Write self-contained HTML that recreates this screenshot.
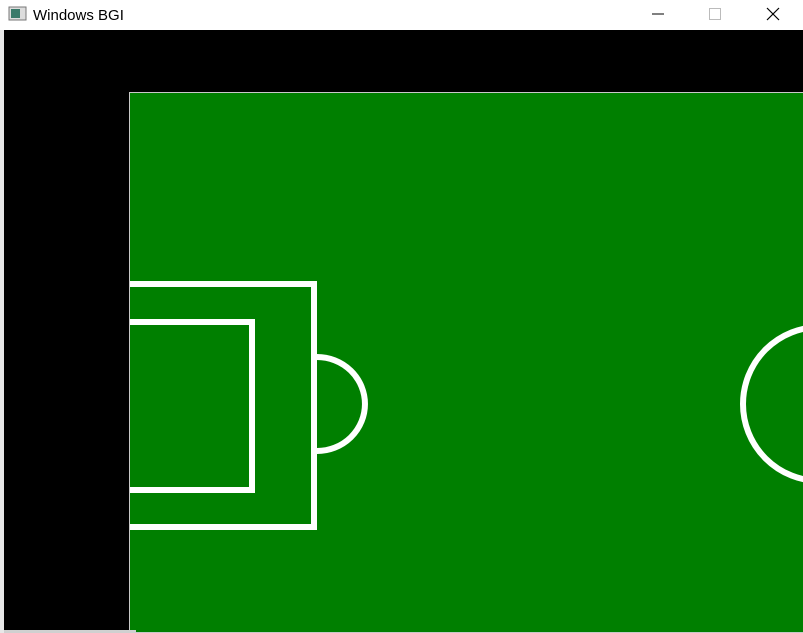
<!DOCTYPE html>
<html><head><meta charset="utf-8"><style>
html,body{margin:0;padding:0;width:803px;height:633px;overflow:hidden;background:#fff;font-family:"Liberation Sans",sans-serif}
</style></head><body>
<svg width="803" height="633" viewBox="0 0 803 633" xmlns="http://www.w3.org/2000/svg">
  <rect x="0" y="0" width="803" height="30" fill="#fff"/>
  <g>
    <rect x="9" y="7" width="17" height="13" fill="#ddd" stroke="#777"/>
    <rect x="11" y="9" width="9" height="9" fill="#3a7a6a"/>
  </g>
  <text x="33" y="20" font-size="15" fill="#000">Windows BGI</text>
  <line x1="652" y1="14" x2="664" y2="14" stroke="#000" stroke-width="1"/>
  <rect x="709.5" y="8.5" width="11" height="11" fill="none" stroke="#bbb"/>
  <g stroke="#000" stroke-width="1.2">
    <line x1="767" y1="8" x2="779" y2="20"/><line x1="779" y1="8" x2="767" y2="20"/>
  </g>
  <rect x="0" y="30" width="4" height="603" fill="#e8e8e8"/>
  <rect x="4" y="30" width="799" height="603" fill="#000"/>
  <rect x="129.5" y="92.5" width="680" height="540" fill="#007f00" stroke="#c8c8c8"/>
  <g fill="none" stroke="#fff" stroke-width="6">
    <path d="M130 284 H314 V527 H130"/>
    <path d="M130 322 H252 V490 H130"/>
    <path d="M317 357 A48 47 0 0 1 317 451"/>
    <circle cx="820" cy="404" r="77"/>
  </g>
  <rect x="4" y="630" width="132" height="3" fill="#d0d0d0"/>
</svg>
</body></html>
